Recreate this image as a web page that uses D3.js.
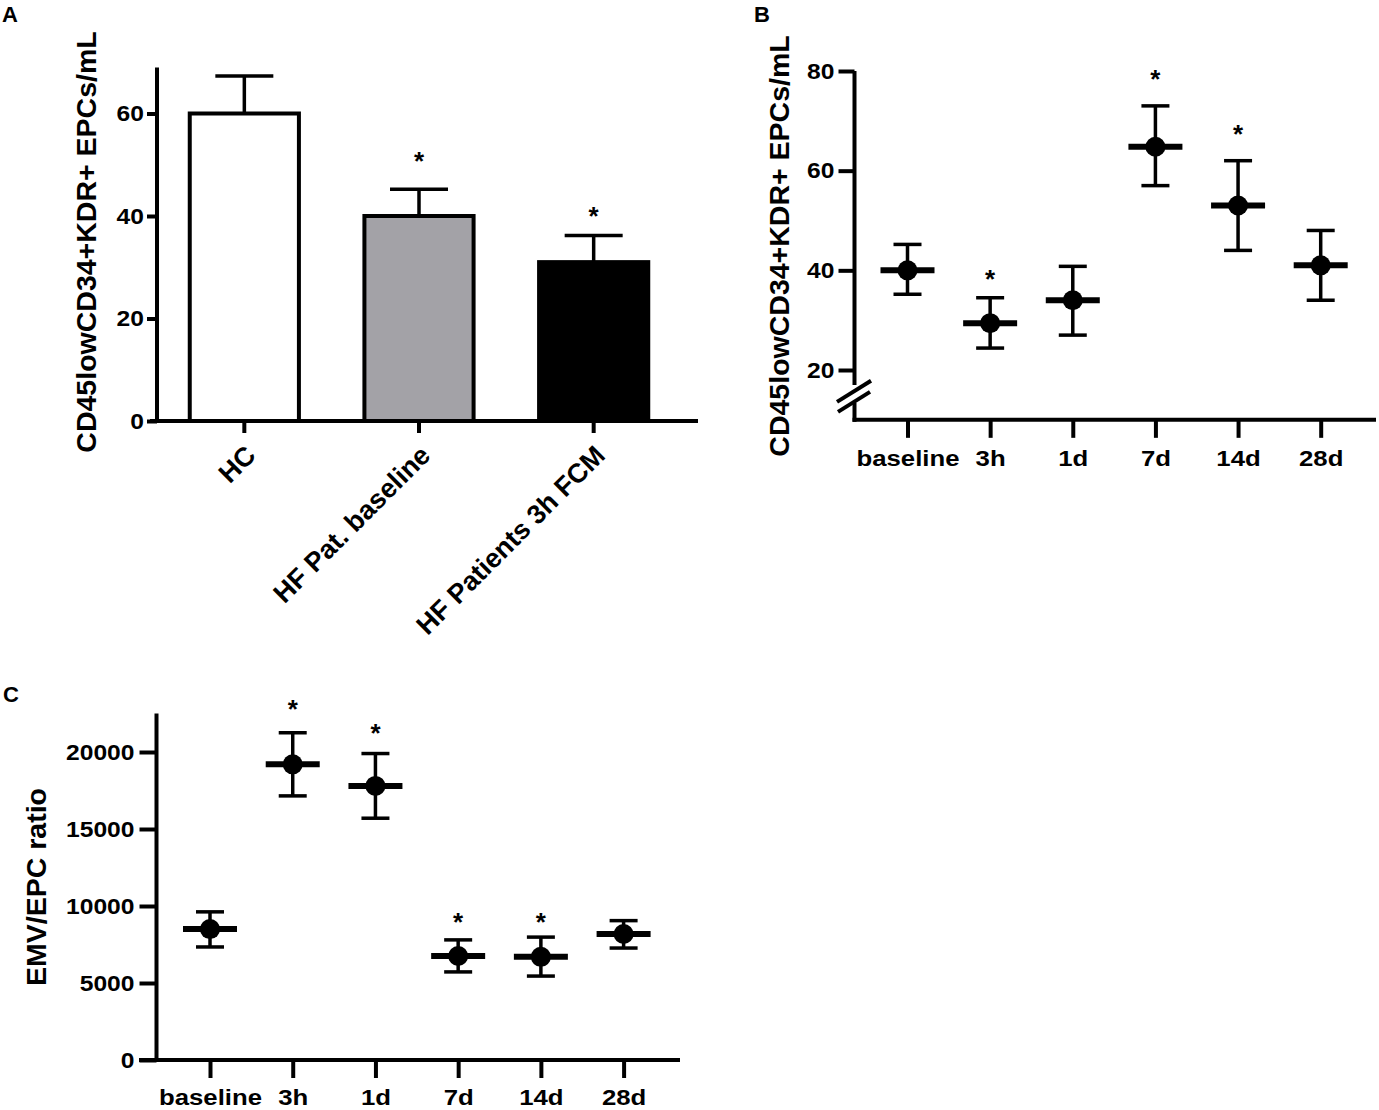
<!DOCTYPE html>
<html>
<head>
<meta charset="utf-8">
<script src="https://cdn.jsdelivr.net/npm/d3@7"></script>
<style>
body { margin: 0; background: #fff; }
text { font-family: "Liberation Sans", Arial, sans-serif; font-weight: bold; fill: #000; }
</style>
</head>
<body>
<div class="chart"></div>
<script>
/* DATA */
// panel A - bars with upper SEM
var groupsA = ["HC", "HF Pat. baseline", "HF Patients 3h FCM"];
var meanA = [60, 40, 31];
var errTopA = [67.3, 45.2, 36.2];
var starA = [null, 51.9, 41.2];
var ticksA = [0, 20, 40, 60];

// panels B and C share the time points
var timepoints = ["baseline", "3h", "1d", "7d", "14d", "28d"];

var meanB = [40, 29.4, 34, 64.8, 53, 41];
var hiB = [45.2, 34.5, 40.8, 73, 62, 48];
var loB = [35.2, 24.4, 27, 57, 44, 34];
var starB = [null, 39.4, null, 79.6, 68.6, null];
var ticksB = [20, 40, 60, 80];

var meanC = [8500, 19200, 17800, 6750, 6700, 8180];
var hiC = [9620, 21250, 19900, 7800, 7980, 9050];
var loC = [7340, 17150, 15700, 5720, 5450, 7270];
var starC = [null, 23180, 21620, 9350, 9350, null];
var ticksC = [0, 5000, 10000, 15000, 20000];

/* SET UP */
var svg = d3.select(".chart").append("svg")
    .attr("width", 1379)
    .attr("height", 1110);

var barColor = d3.scaleOrdinal().domain(groupsA).range(["#ffffff", "#a3a2a7", "#000000"]);

// the original figure's lettering is a bit wider than Arial
var stretch = 1.12;

function line(g, x1, y1, x2, y2, w) {
    g.append("line")
        .attr("x1", x1).attr("y1", y1)
        .attr("x2", x2).attr("y2", y2)
        .attr("stroke", "#000")
        .attr("stroke-width", w);
}

function star(g, x, y) {
    // y is where the middle of the asterisk should sit
    g.append("text")
        .attr("x", x)
        .attr("y", y + 15)
        .attr("text-anchor", "middle")
        .style("font-size", "26px")
        .text("*");
}

function yTicks(g, scale, values, x, size, pad) {
    var ax = g.append("g")
        .attr("transform", "translate(" + x + ",0)")
        .call(d3.axisLeft(scale).tickValues(values).tickSize(size)
            .tickSizeOuter(0).tickFormat(d3.format("d")));
    ax.select(".domain").remove();
    ax.selectAll(".tick line").attr("stroke-width", 4);
    ax.selectAll(".tick text")
        .style("font-size", "22px")
        .attr("x", -(size + pad) / stretch)
        .attr("transform", "scale(" + stretch + ",1)");
}

function xTicks(g, scale, y, size, labelY) {
    var ax = g.append("g")
        .attr("transform", "translate(0," + y + ")")
        .call(d3.axisBottom(scale).tickSize(size).tickSizeOuter(0));
    ax.select(".domain").remove();
    ax.selectAll(".tick line").attr("stroke-width", 4);
    if (labelY) {
        ax.selectAll(".tick text")
            .style("font-size", "23px")
            .attr("y", labelY - y)
            .attr("dy", null)
            .attr("transform", "scale(" + stretch + ",1)");
    } else {
        ax.selectAll(".tick text").remove();
    }
}

function yTitle(g, x, y, txt) {
    g.append("text")
        .attr("transform", "translate(" + x + "," + y + ") rotate(-90)")
        .attr("text-anchor", "middle")
        .style("font-size", "28.5px")
        .text(txt);
}

function panelLetter(x, y, txt) {
    svg.append("text")
        .attr("x", x).attr("y", y)
        .style("font-size", "22px")
        .text(txt);
}

// mean + error bar + dot for every time point
function dotPlot(g, x, y, mean, hi, lo, stars) {
    timepoints.forEach(function(t, i) {
        var cx = x(t);
        line(g, cx, y(hi[i]), cx, y(lo[i]), 3.5);
        line(g, cx - 14, y(hi[i]), cx + 14, y(hi[i]), 3.5);
        line(g, cx - 14, y(lo[i]), cx + 14, y(lo[i]), 3.5);
        line(g, cx - 27, y(mean[i]), cx + 27, y(mean[i]), 6);
        g.append("circle")
            .attr("cx", cx)
            .attr("cy", y(mean[i]))
            .attr("r", 10)
            .attr("fill", "#000");
        if (stars[i] !== null) star(g, cx, y(stars[i]));
    });
}

/* PANEL A */
var gA = svg.append("g");
var xA = d3.scaleBand().domain(groupsA).range([157, 681]).paddingInner(0.375).paddingOuter(0.1875);
var yA = d3.scaleLinear().domain([0, 60]).range([421, 113.5]);

gA.selectAll(".bar")
    .data(groupsA)
    .enter().append("rect")
    .attr("class", "bar")
    .attr("x", function(d) { return xA(d); })
    .attr("width", xA.bandwidth())
    .attr("y", function(d, i) { return yA(meanA[i]); })
    .attr("height", function(d, i) { return yA(0) - yA(meanA[i]); })
    .attr("fill", function(d) { return barColor(d); })
    .attr("stroke", "#000")
    .attr("stroke-width", 4);

groupsA.forEach(function(d, i) {
    var cx = xA(d) + xA.bandwidth() / 2;
    line(gA, cx, yA(meanA[i]), cx, yA(errTopA[i]), 3.5);
    line(gA, cx - 29, yA(errTopA[i]), cx + 29, yA(errTopA[i]), 3.5);
    if (starA[i] !== null) star(gA, cx, yA(starA[i]));
});

line(gA, 157, yA(0) + 2, 157, yA(69), 4);
line(gA, 150, yA(0), 698, yA(0), 4);
yTicks(gA, yA, ticksA, 157, 10, 3);
xTicks(gA, xA, yA(0), 12, null);

groupsA.forEach(function(d) {
    var cx = xA(d) + xA.bandwidth() / 2;
    gA.append("text")
        .attr("transform", "translate(" + (cx + 13) + "," + 457 + ") rotate(-45)")
        .attr("text-anchor", "end")
        .style("font-size", "27px")
        .text(d);
});

yTitle(gA, 96, 242, "CD45lowCD34+KDR+ EPCs/mL");
panelLetter(2, 22, "A");

/* PANEL B */
var gB = svg.append("g");
var xB = d3.scalePoint().domain(timepoints).range([907.5, 1320.7]);
var yB = d3.scaleLinear().domain([20, 80]).range([370, 71]);

// broken y axis
line(gB, 854.5, yB(80), 854.5, yB(17), 4);
line(gB, 854.5, yB(13.4), 854.5, yB(10) + 2, 4);
line(gB, 837, yB(13.6), 871, yB(17.85), 4);
line(gB, 838, yB(11.6), 870, yB(15.6), 4);
line(gB, 852.5, yB(10), 1376, yB(10), 4);
yTicks(gB, yB, ticksB, 854.5, 16, 4);
xTicks(gB, xB, yB(10), 18, 466.5);
dotPlot(gB, xB, yB, meanB, hiB, loB, starB);

yTitle(gB, 789, 246, "CD45lowCD34+KDR+ EPCs/mL");
panelLetter(754, 22, "B");

/* PANEL C */
var gC = svg.append("g");
var xC = d3.scalePoint().domain(timepoints).range([210, 623.6]);
var yC = d3.scaleLinear().domain([0, 20000]).range([1060, 752]);

line(gC, 156.5, yC(0), 156.5, yC(22500), 4);
line(gC, 139, yC(0), 680, yC(0), 4);
yTicks(gC, yC, ticksC, 156.5, 17, 5);
xTicks(gC, xC, yC(0), 18, 1105);
dotPlot(gC, xC, yC, meanC, hiC, loC, starC);

yTitle(gC, 46, 887, "EMV/EPC ratio");
panelLetter(3, 702, "C");
</script>
</body>
</html>
